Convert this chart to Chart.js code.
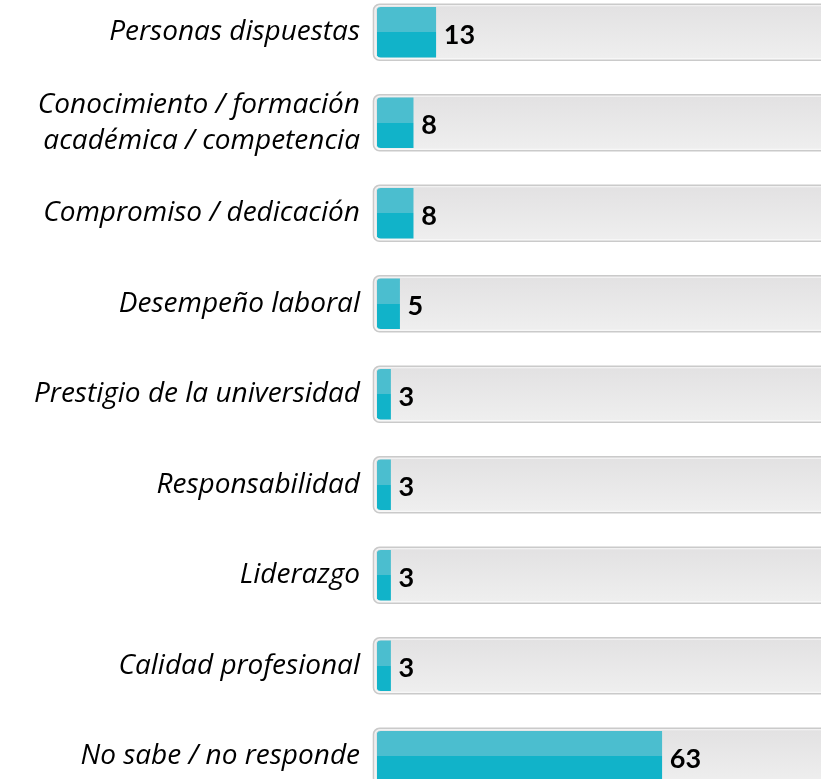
<!DOCTYPE html>
<html>
<head>
<meta charset="utf-8">
<script src="https://cdn.jsdelivr.net/npm/chart.js@4.4.1/dist/chart.umd.min.js"></script>
<style>
  html, body { margin: 0; padding: 0; background: #ffffff; overflow: hidden; width: 821px; height: 779px; }
  #wrap { position: absolute; left: 0; top: -13.25px; width: 829px; height: 814.5px; }
</style>
</head>
<body>
<div id="wrap"><canvas id="chart"></canvas></div>
<script>
// Categories (y axis) and their values
const categories = [
  'Personas dispuestas',
  ['Conocimiento / formación', 'académica / competencia'],
  'Compromiso / dedicación',
  'Desempeño laboral',
  'Prestigio de la universidad',
  'Responsabilidad',
  'Liderazgo',
  'Calidad profesional',
  'No sabe / no responde'
];
const values = [13, 8, 8, 5, 3, 3, 3, 3, 63];
const axisMax = 100;

const BAR_LIGHT = '#4bbecf';
const BAR_DARK = '#11b3c9';
const BAR_H = 50;
const TRACK_H = 56;

// Two-tone fill for each bar: lighter upper half, darker lower half
function barFill(ctx) {
  const chart = ctx.chart;
  const y = chart.scales && chart.scales.y;
  if (!y || ctx.dataIndex === undefined) return BAR_DARK;
  const c = y.getPixelForValue(ctx.dataIndex);
  if (!isFinite(c)) return BAR_DARK;
  const g = chart.ctx.createLinearGradient(0, c - BAR_H / 2, 0, c + BAR_H / 2);
  g.addColorStop(0, BAR_LIGHT);
  g.addColorStop(0.5, BAR_LIGHT);
  g.addColorStop(0.5, BAR_DARK);
  g.addColorStop(1, BAR_DARK);
  return g;
}

// Grey rounded track behind every bar
const trackPlugin = {
  id: 'tracks',
  beforeDatasetsDraw(chart) {
    const { ctx, chartArea, scales } = chart;
    ctx.save();
    categories.forEach((_, i) => {
      const c = scales.y.getPixelForValue(i);
      const x = chartArea.left - 3.5;
      const top = c - TRACK_H / 2;
      const w = chart.width + 20 - x;
      const g = ctx.createLinearGradient(0, top, 0, top + TRACK_H);
      g.addColorStop(0, '#e2e1e2');
      g.addColorStop(1, '#efefef');
      ctx.beginPath();
      ctx.roundRect(x, top, w, TRACK_H, 6);
      ctx.fillStyle = g;
      ctx.fill();
      ctx.lineWidth = 1.6;
      ctx.strokeStyle = '#cacaca';
      ctx.stroke();
      ctx.beginPath();
      ctx.roundRect(x + 1.5, top + 1.5, w, TRACK_H - 3, 5);
      ctx.lineWidth = 1;
      ctx.strokeStyle = 'rgba(255,255,255,0.7)';
      ctx.stroke();
    });
    ctx.restore();
  }
};

// Value printed just past the end of each bar
const valueLabels = {
  id: 'valueLabels',
  afterDatasetsDraw(chart) {
    const { ctx } = chart;
    const meta = chart.getDatasetMeta(0);
    ctx.save();
    ctx.font = 'bold 27px Lato, "Open Sans", sans-serif';
    ctx.fillStyle = '#000000';
    ctx.textAlign = 'left';
    ctx.textBaseline = 'middle';
    meta.data.forEach((bar, i) => {
      const { x, y } = bar.getProps(['x', 'y'], true);
      ctx.fillText(String(values[i]), x + 8, y + 3);
    });
    ctx.restore();
  }
};

new Chart(document.getElementById('chart'), {
  type: 'bar',
  data: {
    labels: categories,
    datasets: [{
      data: values,
      backgroundColor: barFill,
      borderWidth: 0,
      borderSkipped: false,
      borderRadius: { topLeft: 4, bottomLeft: 4, topRight: 0, bottomRight: 0 },
      barThickness: BAR_H
    }]
  },
  options: {
    indexAxis: 'y',
    responsive: true,
    maintainAspectRatio: false,
    animation: false,
    layout: { padding: 0 },
    plugins: { legend: { display: false }, tooltip: { enabled: false } },
    scales: {
      x: {
        display: false,
        min: 0,
        max: axisMax
      },
      y: {
        grid: { display: false, drawTicks: false },
        border: { display: false },
        afterFit(scale) {
          scale.width = 377;
          scale.paddingTop = 0;
          scale.paddingBottom = 0;
        },
        ticks: {
          padding: 17,
          color: '#000000',
          font: { family: '"Open Sans", Lato, sans-serif', size: 28, style: 'italic', lineHeight: 1.3 }
        }
      }
    }
  },
  plugins: [trackPlugin, valueLabels]
});
</script>
</body>
</html>
